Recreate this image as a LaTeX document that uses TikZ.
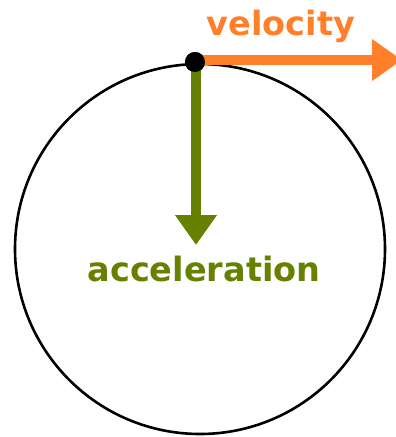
\documentclass[tikz,border=0pt]{standalone}
\usepackage{fontspec}
\setmainfont{DejaVu Sans}
\usepackage{tikz}
\usetikzlibrary{arrows.meta,positioning,calc}
\usepackage{xcolor}
\definecolor{velo}{RGB}{255,127,42}
\definecolor{accel}{RGB}{102,128,0}

\begin{document}
\begin{tikzpicture}[x=1pt,y=-1pt,
  every node/.style={font=\fontsize{33.5}{40}\selectfont\bfseries},
  vec/.style={line width=10pt,-{Triangle[length=30pt,width=40pt]}}]
\useasboundingbox (0,0) rectangle (396,437);
\node[draw,circle,line width=2.6pt,minimum size=370pt,inner sep=0pt] (orbit) at (200,249) {};
\node[circle,fill=black,minimum size=20pt,inner sep=0pt] (p) at (195,62) {};
\coordinate (vtip) at (402,60);
\coordinate (atip) at (196,245);
\draw[vec,velo] (p.center |- vtip) -- (vtip);
\draw[vec,accel] (atip |- p.center) -- (atip);
\node[circle,fill=black,minimum size=20pt,inner sep=0pt] at (p) {};
\node[velo,anchor=base] (vlabel) at (281,35) {velocity};
\node[accel,anchor=base] (alabel) at (204,281) {acceleration};
\end{tikzpicture}
\end{document}
